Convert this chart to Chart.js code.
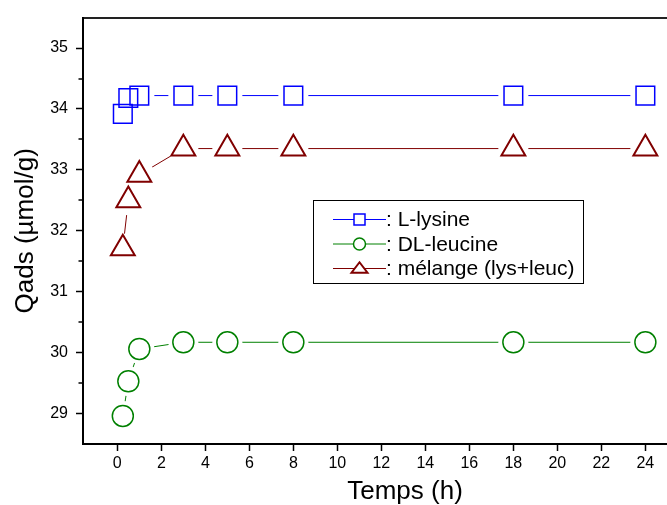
<!DOCTYPE html>
<html>
<head>
<meta charset="utf-8">
<script src="https://cdn.jsdelivr.net/npm/chart.js@4.4.0/dist/chart.umd.min.js"></script>
<style>
html, body { margin: 0; padding: 0; background: #fff; overflow: hidden; width: 667px; height: 505px; }
#wrap { width: 727px; height: 505px; }
</style>
</head>
<body>
<div id="wrap"><canvas id="qadsChart" width="727" height="505"></canvas></div>
<script>
// Adsorption data (time in hours, Qads in µmol/g)
const hours = [0.25, 0.5, 1, 3, 5, 8, 18, 24];
const lysine = [33.92, 34.18, 34.22, 34.22, 34.22, 34.22, 34.22, 34.22];
const leucine = [28.96, 29.53, 30.06, 30.17, 30.17, 30.17, 30.17, 30.17];
const melange = [31.71, 32.50, 32.92, 33.35, 33.35, 33.35, 33.35, 33.35];
const seriesNames = ['L-lysine', 'DL-leucine', 'mélange (lys+leuc)'];
const xTicks = [0, 2, 4, 6, 8, 10, 12, 14, 16, 18, 20, 22, 24];
const yTicks = [29, 30, 31, 32, 33, 34, 35];
const yMinorTicks = [29.5, 30.5, 31.5, 32.5, 33.5, 34.5];

const fontFamily = '"Liberation Sans", Arial, sans-serif';
const ctx = document.getElementById('qadsChart').getContext('2d');

const series = [
    { name: seriesNames[0], values: lysine, color: '#0000ff', style: 'rect', radius: 13.2, width: 1.5, legendSize: 5.5 },
    { name: seriesNames[1], values: leucine, color: '#008000', style: 'circle', radius: 10.5, width: 1.5, legendSize: 6 },
    { name: seriesNames[2], values: melange, color: '#800000', style: 'triangle', radius: 13.8, width: 2, legendSize: 8 },
];

function toPoints(values) {
    return hours.map((h, i) => ({ x: h, y: values[i] }));
}

// each series: connecting line, white halo (gap around markers), hollow markers
const datasets = [];
series.forEach((s) => {
    datasets.push({
        label: s.name, data: toPoints(s.values), showLine: true,
        borderColor: s.color, borderWidth: 1, pointRadius: 0, order: 3,
    });
    datasets.push({
        label: s.name + ' gap', data: toPoints(s.values), showLine: false,
        pointStyle: 'circle', pointRadius: 15, pointBackgroundColor: '#fff',
        pointBorderWidth: 0, order: 2,
    });
    datasets.push({
        label: s.name + ' marker', data: toPoints(s.values), showLine: false,
        pointStyle: s.style, pointRadius: s.radius, pointBackgroundColor: 'rgba(0,0,0,0)',
        pointBorderColor: s.color, pointBorderWidth: s.width, order: 1,
    });
});

// small minor ticks on the left axis
const minorTicks = {
    id: 'minorTicks',
    afterDraw(chart) {
        const y = chart.scales.y;
        const left = chart.chartArea.left;
        const c = chart.ctx;
        c.save();
        c.strokeStyle = '#000';
        c.lineWidth = 1.5;
        yMinorTicks.forEach((v) => {
            const py = Math.round(y.getPixelForValue(v));
            c.beginPath();
            c.moveTo(left - 4.5, py);
            c.lineTo(left, py);
            c.stroke();
        });
        c.restore();
    },
};

function drawMarker(c, style, x, y, r) {
    c.beginPath();
    if (style === 'rect') {
        c.rect(x - r, y - r, 2 * r, 2 * r);
    } else if (style === 'circle') {
        c.arc(x, y, r, 0, Math.PI * 2);
    } else {
        const h = r * Math.sqrt(3) / 2;
        c.moveTo(x, y - h * 0.9);
        c.lineTo(x + r, y + h * 0.6);
        c.lineTo(x - r, y + h * 0.6);
        c.closePath();
    }
    c.fillStyle = '#fff';
    c.fill();
    c.stroke();
}

// legend box inside the plot
const boxLegend = {
    id: 'boxLegend',
    afterDraw(chart) {
        const c = chart.ctx;
        c.save();
        c.fillStyle = '#fff';
        c.fillRect(313.5, 200.5, 270, 83);
        c.strokeStyle = '#000';
        c.lineWidth = 1;
        c.strokeRect(313.5, 200.5, 270, 83);
        c.font = '21px ' + fontFamily;
        c.textBaseline = 'middle';
        series.forEach((s, i) => {
            const ry = 219.5 + i * 24.5;
            c.strokeStyle = s.color;
            c.lineWidth = 1;
            c.beginPath();
            c.moveTo(333, ry);
            c.lineTo(386, ry);
            c.stroke();
            c.lineWidth = s.width;
            drawMarker(c, s.style, 359.5, ry, s.legendSize);
            c.fillStyle = '#000';
            c.fillText(': ' + s.name, 386, ry + 1);
        });
        c.restore();
    },
};

const tickFont = { size: 16, family: fontFamily };
const titleFont = { size: 26, family: fontFamily };

new Chart(ctx, {
    type: 'scatter',
    data: { datasets: datasets },
    options: {
        responsive: false,
        animation: false,
        layout: { autoPadding: false, padding: { top: 15.5, left: 0, right: 0, bottom: 0 } },
        plugins: { legend: { display: false }, tooltip: { enabled: false } },
        scales: {
            x: {
                type: 'linear',
                min: -1.56,
                max: 27.71,
                afterBuildTicks: (scale) => { scale.ticks = xTicks.map((v) => ({ value: v })); },
                afterFit: (scale) => { scale.height = 61; },
                grid: { drawOnChartArea: false, tickLength: 7, tickColor: '#000', tickWidth: 1.5 },
                border: { color: '#000', width: 2 },
                ticks: { color: '#000', font: tickFont, padding: 3, maxRotation: 0, autoSkip: false },
                title: { display: true, text: 'Temps (h)', color: '#000', font: titleFont, padding: { top: 0, bottom: -2 } },
            },
            xTop: {
                type: 'linear',
                position: 'top',
                min: -1.56,
                max: 27.71,
                afterFit: (scale) => { scale.height = 0; },
                grid: { display: false },
                ticks: { display: false },
                border: { color: '#222', width: 2 },
            },
            y: {
                min: 28.5,
                max: 35.5,
                afterBuildTicks: (scale) => { scale.ticks = yTicks.map((v) => ({ value: v })); },
                afterFit: (scale) => { scale.width = 83; },
                grid: { drawOnChartArea: false, tickLength: 7, tickColor: '#000', tickWidth: 1.5 },
                border: { color: '#000', width: 2 },
                ticks: { color: '#000', font: tickFont, padding: 8 },
                title: { display: true, text: 'Qads (µmol/g)', color: '#000', font: titleFont, padding: { top: 10, bottom: 0 } },
            },
        },
    },
    plugins: [minorTicks, boxLegend],
});
</script>
</body>
</html>
